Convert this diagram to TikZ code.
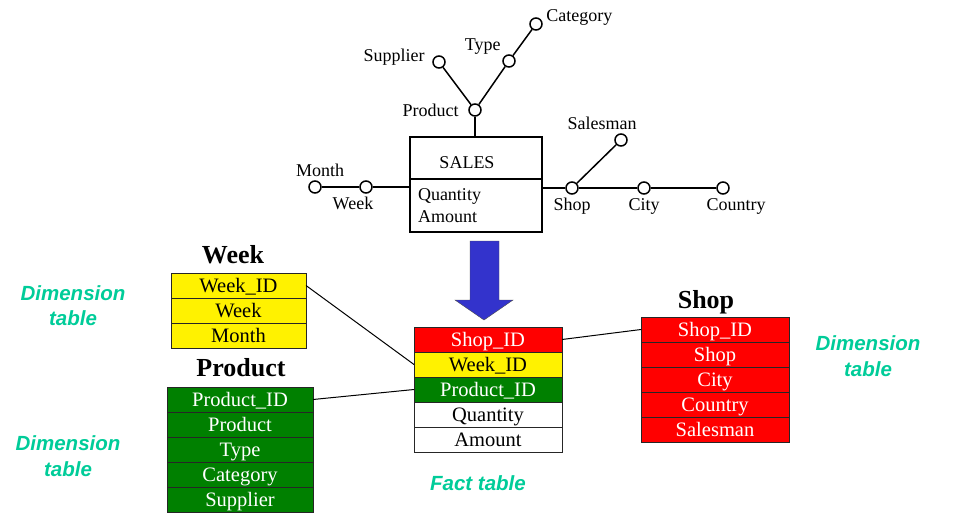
\documentclass[tikz,border=0pt]{standalone}
\usepackage{fontspec}
\setmainfont{Liberation Serif}
\newfontfamily\notefont{Liberation Sans}
\usetikzlibrary{positioning}

\definecolor{notegreen}{RGB}{0,204,153}
\definecolor{arrowblue}{RGB}{51,51,204}
\definecolor{dimgreen}{RGB}{0,128,0}

\tikzset{
  attr/.style={draw, circle, line width=1.5pt, minimum size=12pt, inner sep=0pt, fill=white},
  link/.style={line width=1.5pt},
  salesbox/.style={draw, line width=1.5pt, minimum width=132pt, outer sep=0pt},
  cell/.style={draw=black!85, line width=1pt, minimum height=25pt, inner sep=0pt, outer sep=0pt,
               text height=16pt, text depth=2.5pt, font=\fontsize{20.5}{22}\selectfont},
  weekcell/.style={cell, fill=yellow, minimum width=135pt},
  prodcell/.style={cell, fill=dimgreen, text=white, minimum width=146pt},
  shopcell/.style={cell, fill=red, text=white, minimum width=148pt},
  factcell/.style={cell, minimum width=148pt},
  title/.style={font=\bfseries\fontsize{26}{28}\selectfont},
  note/.style={text=notegreen, align=center, font=\notefont\bfseries\itshape\fontsize{20.5}{25.5}\selectfont}
}

\begin{document}
\begin{tikzpicture}[x=1pt, y=-1pt, font=\fontsize{18}{22}\selectfont]
  \useasboundingbox (0,0) rectangle (953,525);

  % star schema
  \node[salesbox, minimum height=42pt] (salestop) at (476,158) {};
  \node[salesbox, minimum height=53pt, text width=116pt, inner xsep=8pt, align=left,
        below=0pt of salestop] (salesbody) {Quantity\\Amount};
  \node (salestitle) at (467,163) {SALES};

  \node[attr, label={[xshift=5pt]above:Month}] (monthc) at (315,187) {};
  \node[attr, label={[xshift=-13pt]below:Week}] (weekc) at (366,187) {};
  \node[attr, label={[label distance=6pt]left:Product}] (productc) at (475,110) {};
  \node[attr, label={[label distance=4pt, yshift=5pt]left:Supplier}] (supplierc) at (439,62) {};
  \node[attr, label={[yshift=-2pt]above left:Type}] (typec) at (509,61) {};
  \node[attr, label={[yshift=7pt]right:Category}] (categoryc) at (536,24) {};
  \node[attr, label={[xshift=-19pt]above:Salesman}] (salesmanc) at (621,140) {};
  \node[attr, label=below:Shop] (shopc) at (572,188) {};
  \node[attr, label=below:City] (cityc) at (644,188) {};
  \node[attr, label={[xshift=13pt]below:Country}] (countryc) at (723,188) {};

  \draw[link] (monthc) -- (weekc);
  \draw[link] (weekc) -- (weekc -| salesbody.west);
  \draw[link] (productc) -- (productc |- salestop.north);
  \draw[link] (supplierc) -- (productc);
  \draw[link] (typec) -- (productc);
  \draw[link] (categoryc) -- (typec);
  \draw[link] (salesbody.east |- shopc) -- (shopc);
  \draw[link] (shopc) -- (cityc) -- (countryc);
  \draw[link] (shopc) -- (salesmanc);

  % big arrow
  \draw[black!70, fill=arrowblue] (470,241) -- (499,241) -- (499,300) -- (513,300)
    -- (484,320) -- (455,300) -- (470,300) -- cycle;

  % dimension table: week
  \node[title] (weektitle) at (233,255) {Week};
  \node[weekcell] (weekid) at (238.5,285.5) {Week\_ID};
  \node[weekcell, below=0pt of weekid] (weekweek) {Week};
  \node[weekcell, below=0pt of weekweek] (weekmonth) {Month};

  % dimension table: product
  \node[title] (prodtitle) at (241,368) {Product};
  \node[prodcell] (prodid) at (240,399.5) {Product\_ID};
  \node[prodcell, below=0pt of prodid] (prodprod) {Product};
  \node[prodcell, below=0pt of prodprod] (prodtype) {Type};
  \node[prodcell, below=0pt of prodtype] (prodcat) {Category};
  \node[prodcell, below=0pt of prodcat] (prodsup) {Supplier};

  % fact table
  \node[factcell, fill=red, text=white] (factshop) at (488,339.5) {Shop\_ID};
  \node[factcell, fill=yellow, below=0pt of factshop] (factweek) {Week\_ID};
  \node[factcell, fill=dimgreen, text=white, below=0pt of factweek] (factprod) {Product\_ID};
  \node[factcell, below=0pt of factprod] (factqty) {Quantity};
  \node[factcell, below=0pt of factqty] (factamt) {Amount};

  % dimension table: shop
  \node[title] (shoptitle) at (706,302) {Shop};
  \node[shopcell] (shopid) at (715,329.5) {Shop\_ID};
  \node[shopcell, below=0pt of shopid] (shopshop) {Shop};
  \node[shopcell, below=0pt of shopshop] (shopcity) {City};
  \node[shopcell, below=0pt of shopcity] (shopcountry) {Country};
  \node[shopcell, below=0pt of shopcountry] (shopsales) {Salesman};

  \draw[line width=1pt] (weekid.east) -- (factweek.west);
  \draw[line width=1pt] (prodid.east) -- (factprod.west);
  \draw[line width=1pt] (factshop.east) -- (shopid.west);

  % notes
  \node[note] (weeknote) at (73,305.5) {Dimension\\table};
  \node[note] (prodnote) at (68,456) {Dimension\\table};
  \node[note] (shopnote) at (868,356) {Dimension\\table};
  \node[note] (factnote) at (478,483) {Fact table};
\end{tikzpicture}
\end{document}
